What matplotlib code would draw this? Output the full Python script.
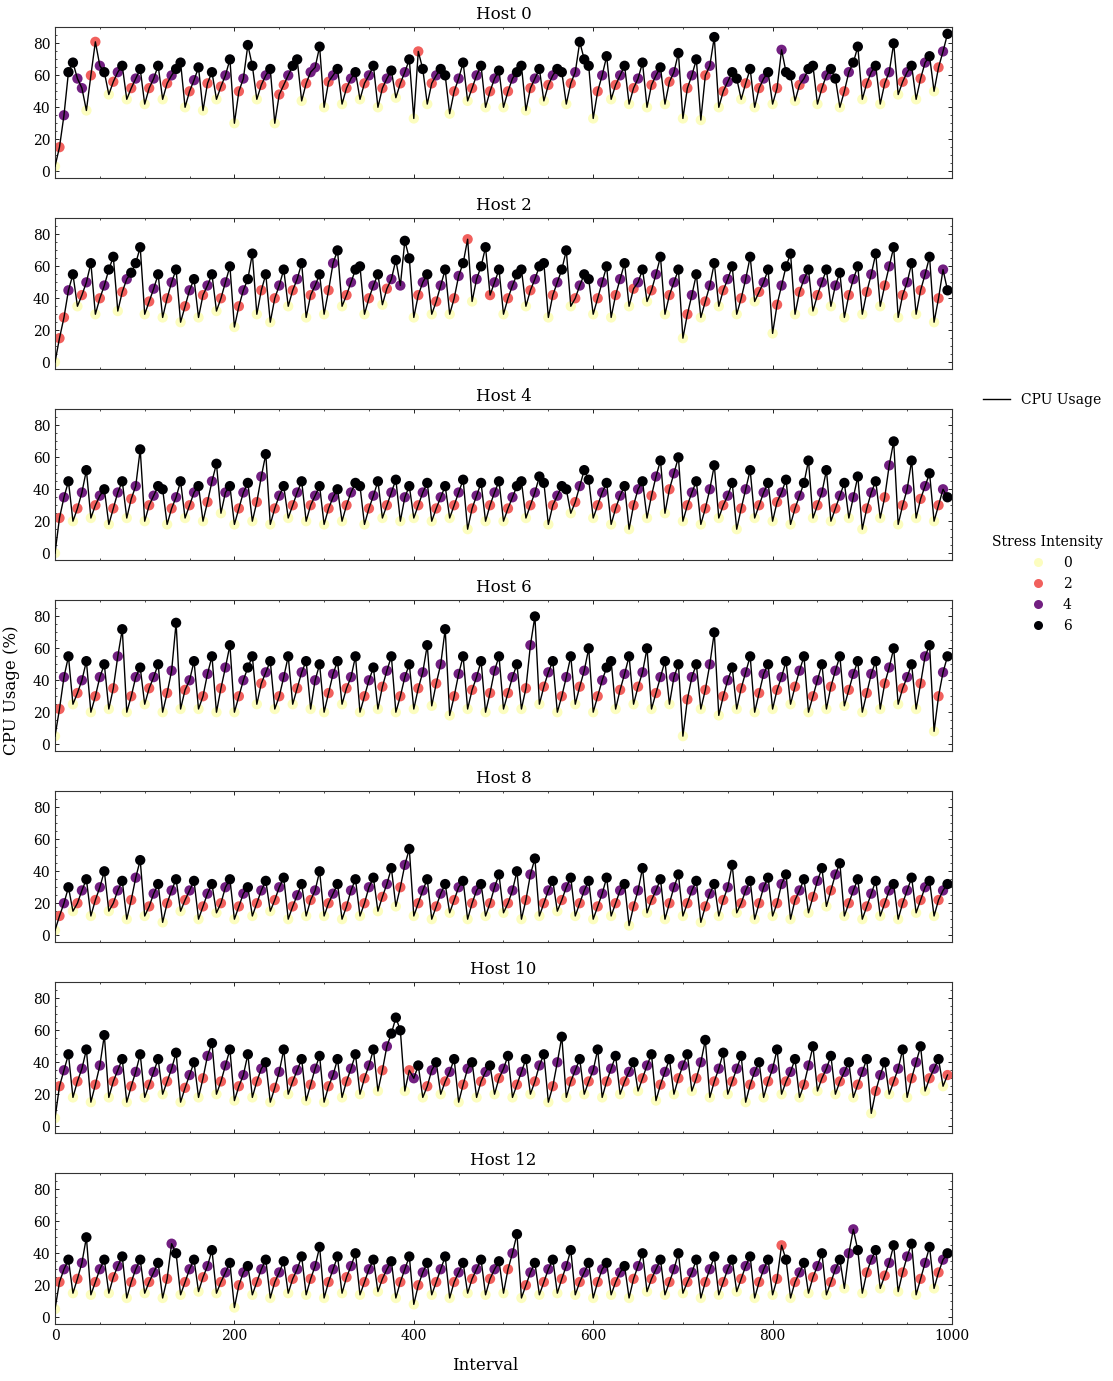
import matplotlib
matplotlib.use("Agg")  # no display
import numpy as np
from matplotlib import pyplot as plt
from matplotlib.lines import Line2D
from matplotlib.ticker import AutoMinorLocator, MultipleLocator

plt.rcParams.update({
    "font.family": ["DejaVu Serif"],
    "xtick.direction": "in",
    "ytick.direction": "in",
    "xtick.top": True,
    "ytick.right": True,
    "xtick.major.size": 3,
    "ytick.major.size": 3,
    "xtick.minor.size": 1.5,
    "ytick.minor.size": 1.5,
    "xtick.major.width": 0.6,
    "ytick.major.width": 0.6,
    "xtick.minor.width": 0.5,
    "ytick.minor.width": 0.5,
    "axes.linewidth": 0.8,
    "axes.edgecolor": "#333333",
})

step = 5
hosts = ["Host 0", "Host 2", "Host 4", "Host 6", "Host 8", "Host 10", "Host 12"]

cpu_h0 = [
    3, 15, 35, 62, 68, 58, 52, 38, 60, 81, 66, 62, 48, 56, 62, 66, 45, 52, 58, 64,
    42, 52, 58, 66, 45, 55, 60, 64, 68, 40, 50, 57, 65, 38, 55, 62, 45, 53, 60, 70,
    30, 50, 58, 79, 66, 45, 54, 60, 64, 30, 48, 54, 60, 66, 70, 44, 55, 62, 65, 78,
    40, 56, 60, 64, 42, 52, 58, 62, 45, 55, 60, 66, 40, 52, 58, 63, 46, 55, 62, 70,
    33, 75, 64, 42, 55, 60, 64, 60, 36, 50, 58, 68, 44, 52, 60, 66, 40, 50, 58, 63,
    40, 50, 58, 62, 66, 38, 52, 58, 64, 44, 54, 60, 64, 62, 42, 55, 62, 81, 70, 66,
    33, 50, 60, 72, 45, 54, 60, 66, 42, 52, 58, 68, 40, 54, 60, 65, 42, 56, 62, 74,
    33, 52, 60, 70, 32, 60, 66, 84, 40, 50, 56, 62, 58, 45, 55, 64, 40, 52, 58, 62,
    42, 52, 76, 62, 60, 44, 54, 58, 64, 66, 42, 52, 60, 64, 58, 40, 50, 62, 68, 78,
    45, 55, 62, 66, 42, 55, 62, 80, 48, 56, 62, 66, 45, 58, 68, 72, 50, 65, 75, 86,
]
stress_h0 = ("0246 6440 2246 0246 0246 0246 0246 6024 6026 0246 "
             "0246 6024 6022 4660 2446 0246 0246 0246 0246 0246 "
             "0260 2466 0246 0246 0246 0246 6024 6024 6602 4666 "
             "0246 0246 0246 0246 0246 0246 0246 0246 6026 0246 "
             "0246 6024 6602 4660 2466 0246 0246 0246 0246 0246")

cpu_h2 = [
    0, 15, 28, 45, 55, 35, 42, 50, 62, 30, 40, 48, 58, 66, 32, 44, 52, 56, 62, 72,
    30, 38, 46, 55, 28, 40, 50, 58, 25, 35, 45, 52, 28, 42, 48, 55, 32, 40, 50, 60,
    22, 35, 45, 52, 68, 30, 45, 55, 25, 40, 48, 58, 35, 45, 52, 62, 28, 42, 48, 55,
    30, 45, 62, 70, 35, 42, 50, 58, 60, 30, 40, 48, 55, 36, 46, 52, 64, 48, 76, 65,
    28, 42, 50, 55, 30, 38, 48, 58, 30, 40, 54, 62, 77, 38, 52, 60, 72, 42, 50, 58,
    30, 40, 48, 55, 58, 35, 45, 52, 60, 62, 28, 42, 50, 58, 70, 35, 40, 48, 55, 52,
    30, 40, 50, 60, 28, 42, 52, 62, 35, 46, 50, 58, 38, 45, 55, 66, 30, 42, 50, 58,
    15, 30, 42, 55, 28, 38, 48, 62, 35, 45, 52, 60, 30, 40, 52, 66, 38, 44, 50, 58,
    18, 36, 48, 60, 68, 30, 44, 52, 58, 32, 42, 50, 58, 35, 48, 56, 28, 42, 52, 60,
    30, 44, 55, 68, 35, 48, 60, 72, 28, 42, 50, 62, 30, 45, 55, 66, 25, 40, 58, 45,
]
stress_h2 = ("0224 6024 6024 6602 4666 0246 0246 0246 0246 0246 "
             "0246 6026 0246 0246 0246 0246 0246 6024 6024 6466 "
             "0246 0246 0246 2046 6246 0246 6024 6602 4660 2466 "
             "0246 0246 0246 0246 0246 0246 0246 0246 0246 0246 "
             "0246 6024 6024 6046 0246 0246 0246 0246 0246 0246")

cpu_h4 = [
    0, 22, 35, 45, 20, 28, 38, 52, 22, 30, 36, 40, 18, 28, 38, 45, 22, 34, 42, 65,
    20, 30, 36, 42, 40, 18, 28, 35, 45, 22, 30, 38, 42, 20, 32, 45, 56, 25, 38, 42,
    18, 28, 38, 44, 20, 32, 48, 62, 18, 28, 36, 42, 22, 30, 38, 45, 20, 30, 36, 42,
    18, 28, 35, 40, 20, 30, 38, 44, 42, 18, 28, 36, 45, 22, 30, 38, 46, 20, 35, 42,
    22, 30, 38, 44, 20, 28, 35, 42, 22, 30, 38, 46, 15, 28, 36, 44, 20, 30, 38, 45,
    20, 28, 35, 42, 45, 22, 30, 38, 48, 44, 18, 30, 36, 42, 40, 25, 32, 42, 52, 46,
    22, 30, 38, 44, 18, 28, 36, 42, 15, 30, 40, 45, 22, 36, 48, 58, 25, 40, 50, 60,
    20, 30, 38, 45, 18, 28, 40, 55, 22, 30, 36, 44, 15, 28, 40, 52, 22, 30, 38, 44,
    20, 32, 38, 46, 18, 28, 36, 44, 58, 22, 30, 38, 52, 20, 28, 36, 44, 22, 35, 48,
    15, 28, 38, 45, 22, 35, 55, 70, 18, 30, 40, 58, 22, 34, 42, 50, 20, 30, 40, 35,
]
stress_h4 = ("0246 0246 0246 0246 0246 0246 6024 6024 6024 6046 "
             "0246 0246 0246 0246 0246 0246 0246 6024 6024 6046 "
             "0246 0246 0246 0246 0246 0246 6024 6602 4660 2466 "
             "0246 0246 0246 0246 0246 0246 0246 0246 0246 0246 "
             "0246 0246 6024 6024 6046 0246 0246 0246 0246 0246")

cpu_h6 = [
    5, 22, 42, 55, 25, 32, 40, 52, 20, 30, 42, 50, 22, 35, 55, 72, 20, 30, 42, 48,
    25, 35, 42, 50, 20, 32, 46, 76, 22, 34, 40, 52, 22, 30, 44, 55, 20, 35, 48, 62,
    20, 30, 40, 48, 55, 25, 38, 45, 52, 22, 30, 42, 55, 25, 35, 45, 52, 22, 40, 50,
    20, 32, 44, 52, 25, 35, 42, 55, 20, 30, 40, 48, 22, 36, 46, 55, 20, 30, 42, 50,
    22, 35, 45, 62, 24, 38, 50, 72, 18, 30, 44, 55, 22, 34, 42, 52, 20, 32, 46, 55,
    22, 32, 42, 50, 22, 35, 62, 80, 25, 36, 45, 52, 20, 30, 42, 55, 25, 36, 46, 60,
    20, 30, 40, 48, 52, 22, 34, 44, 55, 25, 36, 45, 60, 22, 32, 42, 52, 25, 42, 50,
    5, 28, 42, 50, 22, 34, 50, 70, 18, 30, 40, 48, 22, 35, 45, 55, 20, 32, 44, 50,
    22, 34, 42, 52, 25, 36, 46, 55, 20, 30, 40, 50, 22, 36, 46, 55, 24, 34, 44, 52,
    20, 32, 44, 52, 22, 38, 48, 60, 25, 35, 42, 50, 22, 38, 55, 62, 8, 30, 45, 55,
]
stress_h6 = ("0246 0246 0246 0246 0246 0246 0246 0246 0246 0246 "
             "0246 6024 6024 6024 6046 0246 0246 0246 0246 0246 "
             "0246 0246 0246 0246 0246 0246 0246 0246 0246 0246 "
             "0246 6024 6024 6024 6046 0246 0246 0246 0246 0246 "
             "0246 0246 0246 0246 0246 0246 0246 0246 0246 0246")

cpu_h8 = [
    3, 12, 20, 30, 15, 20, 28, 35, 12, 22, 30, 40, 15, 20, 28, 34, 10, 22, 36, 47,
    12, 18, 26, 32, 8, 20, 28, 35, 15, 22, 28, 34, 10, 18, 26, 32, 14, 20, 30, 35,
    10, 18, 26, 30, 12, 20, 28, 34, 15, 22, 30, 36, 10, 18, 25, 32, 12, 22, 28, 40,
    12, 20, 26, 32, 10, 18, 28, 35, 12, 20, 30, 36, 15, 24, 32, 42, 18, 30, 44, 54,
    12, 20, 28, 35, 10, 18, 26, 32, 14, 22, 30, 34, 10, 20, 28, 32, 12, 20, 30, 38,
    14, 20, 28, 40, 10, 22, 38, 48, 12, 20, 28, 34, 15, 22, 30, 36, 12, 20, 28, 34,
    10, 18, 26, 36, 12, 20, 28, 32, 6, 18, 28, 42, 14, 22, 28, 35, 10, 20, 30, 38,
    12, 20, 28, 34, 8, 18, 26, 32, 12, 22, 30, 44, 14, 20, 28, 34, 10, 20, 30, 36,
    12, 20, 32, 38, 10, 22, 28, 35, 14, 24, 34, 42, 18, 28, 38, 45, 12, 20, 28, 35,
    10, 18, 26, 34, 12, 20, 28, 32, 10, 20, 28, 36, 14, 22, 30, 34, 12, 22, 28, 32,
]
stress_h8 = ("0246 0246 0246 0246 0246 0246 0246 0246 0246 0246 "
             "0246 0246 0246 0246 0246 0246 0246 0246 0246 0246 "
             "0246 0246 0246 0246 0246 0246 0246 0246 0246 0246 "
             "0246 0246 0246 0246 0246 0246 0246 0246 0246 0246 "
             "0246 0246 0246 0246 0246 0246 0246 0246 0246 0246")

cpu_h10 = [
    5, 25, 35, 45, 18, 28, 36, 48, 15, 26, 38, 57, 18, 28, 35, 42, 15, 25, 34, 45,
    18, 26, 34, 42, 20, 28, 36, 46, 15, 24, 32, 40, 18, 30, 44, 52, 20, 28, 38, 48,
    16, 25, 32, 45, 18, 28, 36, 40, 15, 24, 34, 48, 20, 28, 35, 42, 16, 26, 36, 44,
    15, 25, 32, 42, 18, 28, 36, 45, 20, 30, 38, 48, 22, 35, 50, 58, 68, 60, 22, 35,
    30, 38, 18, 25, 35, 40, 20, 28, 34, 42, 15, 26, 36, 40, 18, 28, 34, 38, 20, 30,
    36, 44, 18, 26, 34, 42, 20, 28, 38, 45, 15, 25, 40, 56, 18, 28, 35, 42, 20, 28,
    35, 48, 18, 28, 36, 44, 20, 28, 34, 40, 22, 30, 38, 45, 16, 26, 34, 42, 20, 30,
    38, 45, 22, 30, 40, 54, 18, 28, 36, 46, 20, 28, 36, 44, 15, 26, 34, 40, 18, 28,
    36, 48, 20, 28, 34, 42, 18, 26, 38, 50, 22, 30, 36, 44, 20, 28, 34, 40, 18, 26,
    34, 42, 8, 22, 32, 40, 20, 28, 36, 48, 18, 30, 40, 50, 22, 30, 36, 42, 25, 32,
]
stress_h10 = ("0246 0246 0246 0246 0246 0246 0246 0246 0246 0246 "
              "0246 0246 0246 0246 0246 0246 0246 0246 0246 6602 "
              "4602 4602 4602 4602 4602 4602 4602 4602 4602 4602 "
              "4602 4602 4602 4602 4602 4602 4602 4602 4602 4602 "
              "4602 4602 4602 4602 4602 4602 4602 4602 4602 4602")

cpu_h12 = [
    5, 22, 30, 36, 15, 24, 34, 50, 14, 22, 30, 36, 15, 25, 32, 38, 12, 22, 30, 36,
    15, 22, 28, 34, 12, 24, 46, 40, 14, 22, 30, 36, 16, 25, 32, 42, 15, 22, 28, 34,
    6, 20, 28, 32, 14, 22, 30, 36, 12, 22, 28, 35, 15, 24, 30, 38, 14, 24, 32, 44,
    12, 22, 30, 38, 15, 25, 32, 40, 14, 22, 30, 36, 16, 24, 30, 35, 12, 22, 30, 38,
    8, 20, 28, 34, 14, 22, 30, 38, 12, 22, 28, 34, 15, 24, 30, 36, 14, 24, 30, 35,
    15, 30, 40, 52, 12, 20, 28, 34, 14, 22, 30, 36, 15, 24, 32, 42, 14, 22, 28, 34,
    12, 22, 30, 34, 14, 22, 28, 32, 12, 24, 32, 40, 16, 24, 30, 36, 14, 22, 30, 40,
    15, 22, 28, 36, 12, 22, 30, 38, 14, 22, 30, 36, 16, 24, 32, 38, 12, 22, 30, 36,
    14, 24, 45, 36, 12, 22, 28, 34, 15, 25, 32, 40, 14, 22, 30, 36, 18, 40, 55, 42,
    15, 28, 36, 42, 18, 26, 34, 45, 16, 28, 38, 46, 14, 24, 34, 44, 18, 28, 36, 40,
]
stress_h12 = ("0246 0246 0246 0246 0246 0246 0246 0246 0246 0246 "
              "0246 0246 0246 0246 0246 0246 0246 0246 0246 0246 "
              "0246 0246 0246 0246 0246 0246 0246 0246 0246 0246 "
              "0246 0246 0246 0246 0246 0246 0246 0246 0246 0246 "
              "0226 0246 0246 0246 0446 0246 0246 0246 0246 0246")

series = [
    (cpu_h0, stress_h0), (cpu_h2, stress_h2), (cpu_h4, stress_h4),
    (cpu_h6, stress_h6), (cpu_h8, stress_h8), (cpu_h10, stress_h10),
    (cpu_h12, stress_h12),
]
stress_levels = [0, 2, 4, 6]

# ---- figure ----
W, H = 1113, 1381
fig = plt.figure(figsize=(W / 100, H / 100), dpi=100)
cmap = plt.get_cmap("magma_r")

axes = []
for i, (name, (cpu, stress)) in enumerate(zip(hosts, series)):
    top = 27 + 191 * i
    ax = fig.add_axes([55 / W, 1 - (top + 151) / H, 897 / W, 151 / H],
                      sharex=axes[0] if axes else None)
    axes.append(ax)

    s = [int(c) for c in stress if c != " "]
    n = min(len(cpu), len(s))
    x = np.arange(n) * step
    y = np.array(cpu[:n])

    ax.scatter(x, y, c=s[:n], cmap=cmap, vmin=0, vmax=6, s=55,
               linewidths=0, zorder=2)
    ax.plot(x, y, color="black", lw=1.0, zorder=3)

    ax.set_title(name, fontsize=12)
    ax.set_xlim(0, 1000)
    ax.set_ylim(-4.3, 90.3)
    ax.xaxis.set_major_locator(MultipleLocator(200))
    ax.yaxis.set_major_locator(MultipleLocator(20))
    ax.xaxis.set_minor_locator(AutoMinorLocator())
    ax.yaxis.set_minor_locator(AutoMinorLocator())
    ax.tick_params(labelsize=10)
    if i < len(hosts) - 1:
        ax.tick_params(labelbottom=False)

fig.text(12 / W, 0.5, "CPU Usage (%)", rotation=90, ha="center", va="center",
         fontsize=12)
fig.text(485 / W, 1 - 1366 / H, "Interval", ha="center", va="center",
         fontsize=12)

# legends
line_handle = [Line2D([], [], color="black", lw=1.0)]
fig.legend(line_handle, ["CPU Usage"], loc="center left",
           bbox_to_anchor=(970 / W, 1 - 400 / H), frameon=False, fontsize=10)

dot_handles = [Line2D([], [], ls="none", marker="o", markersize=6.5,
                      markeredgewidth=0, color=cmap(lv / 6))
               for lv in stress_levels]
fig.legend(dot_handles, [str(lv) for lv in stress_levels], loc="center left",
           bbox_to_anchor=(980 / W, 1 - 584 / H), frameon=False, fontsize=10,
           title="Stress Intensity", title_fontsize=10)

fig.savefig("out.png", dpi=100)
